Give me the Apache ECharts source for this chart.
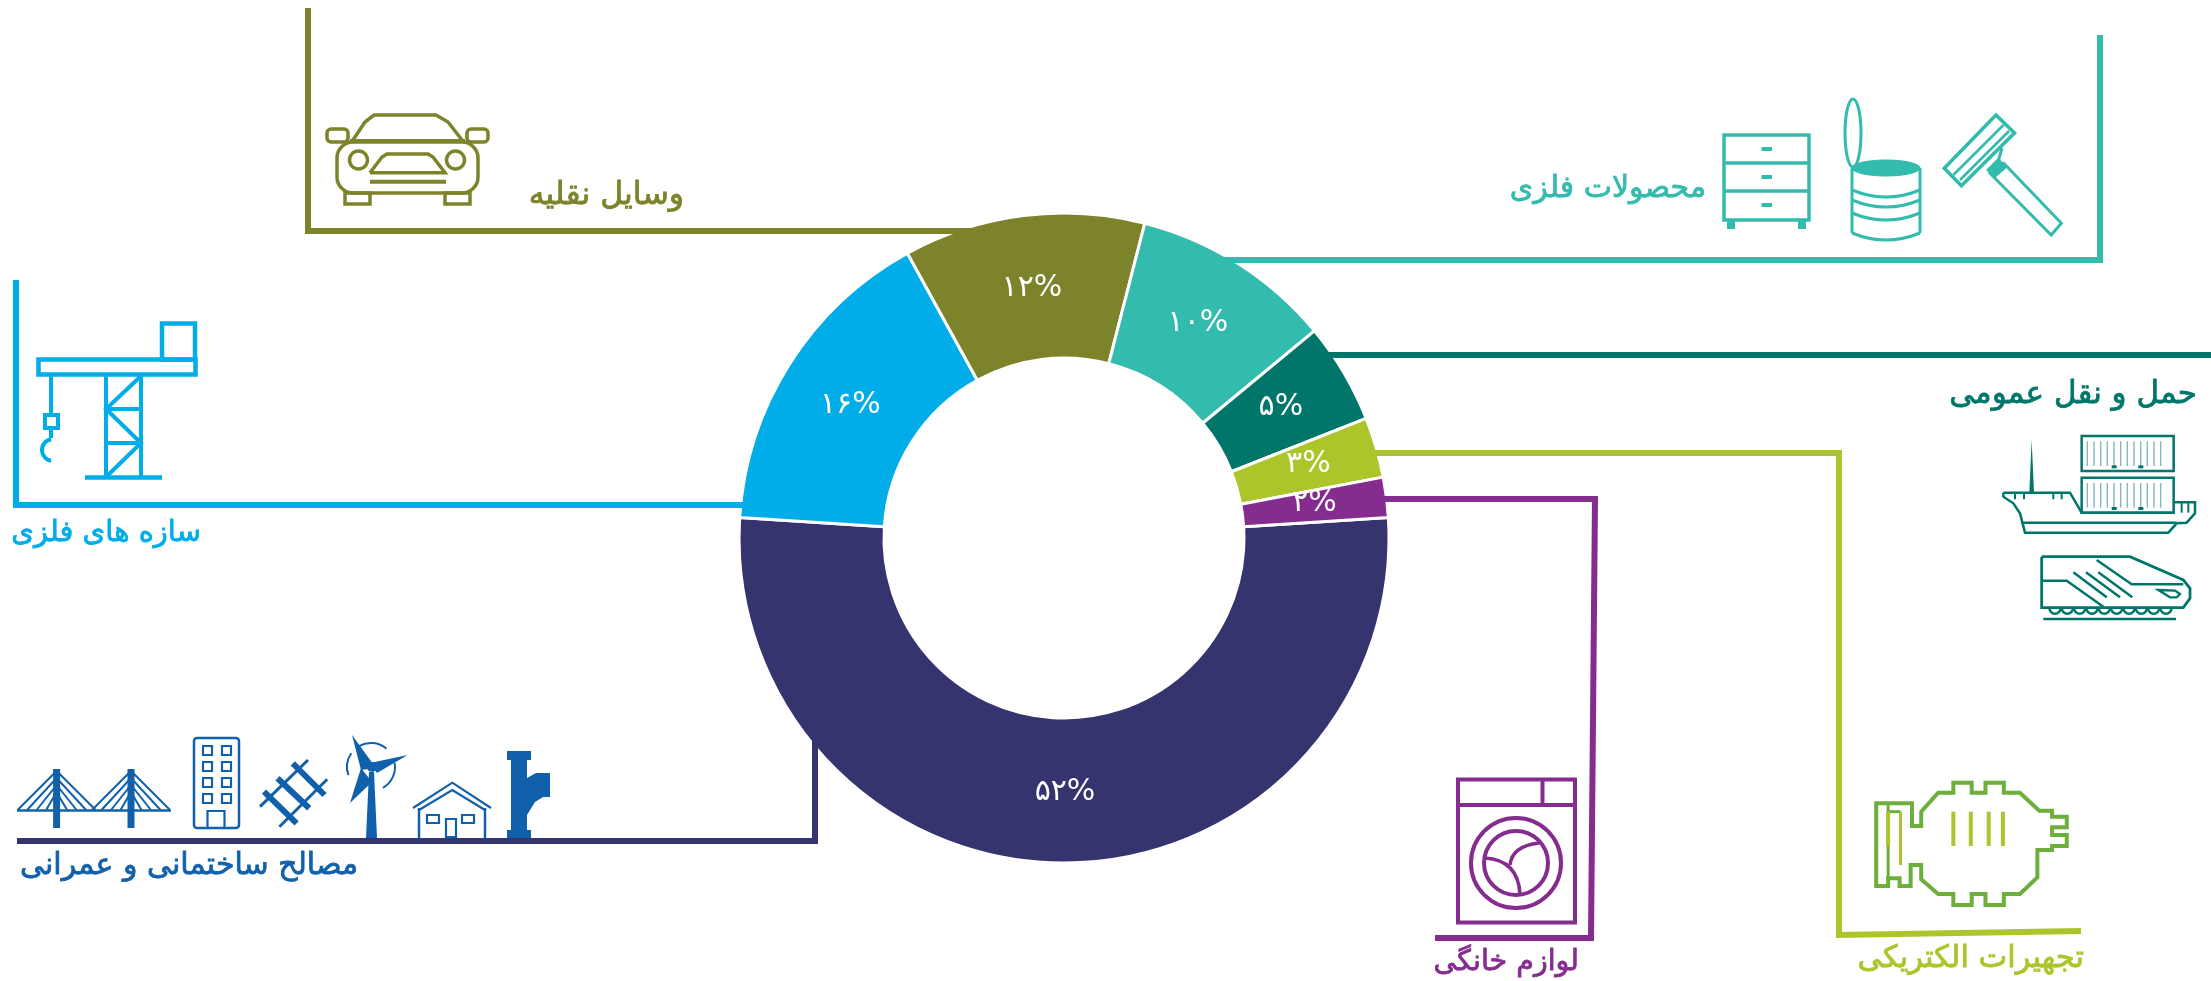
<!DOCTYPE html>
<html><head><meta charset="utf-8">
<style>html,body{margin:0;padding:0;background:#fff}#c{width:2211px;height:981px}</style>
<script src="https://cdn.jsdelivr.net/npm/echarts@6/dist/echarts.min.js"></script>
</head><body><div id="c"></div>
<script>
const categories = ['مصالح ساختمانی و عمرانی','سازه های فلزی','وسایل نقلیه','محصولات فلزی','حمل و نقل عمومی','تجهیرات الکتریکی','لوازم خانگی'];
const shareValues = [52,16,12,10,5,3,2];
const shareLabels = ['۵۲%','۱۶%','۱۲%','۱۰%','۵%','۳%','۲%'];
const sliceColors = ['#35346F','#00ADE9','#7C832A','#33BBAD','#00766A','#AEC42B','#852C8F'];

const FONT = '"DejaVu Sans"';
const NAVY='#35346F',BLUE='#00ADE9',OLIVE='#7C832A',TEAL='#33BBAD',DARK='#00766A',LIME='#AEC42B',PURPLE='#852C8F',ROYAL='#1160AC',GREEN='#6DAF3A';
const els = [];
const line=(pts,c,w,o={})=>els.push({type:'polyline',silent:true,z:5,shape:{points:pts,smooth:o.smooth||0},style:{stroke:c,fill:o.fill||'none',lineWidth:w,lineJoin:'miter',lineCap:o.cap||'butt',opacity:o.opacity==null?1:o.opacity}});
const poly=(pts,c)=>els.push({type:'polygon',silent:true,shape:{points:pts},style:{fill:c}});
const closed=(pts,c,w)=>els.push({type:'polygon',silent:true,shape:{points:pts},style:{fill:'none',stroke:c,lineWidth:w,lineJoin:'miter'}});
const rect=(x,y,w,h,c,lw,r)=>els.push({type:'rect',silent:true,shape:{x,y,width:w,height:h,r:r||0},style:{fill:'none',stroke:c,lineWidth:lw}});
const fillRect=(x,y,w,h,c)=>els.push({type:'rect',silent:true,shape:{x,y,width:w,height:h},style:{fill:c}});
const circle=(cx,cy,r,c,lw,fill)=>els.push({type:'circle',silent:true,shape:{cx,cy,r},style:{fill:fill||'none',stroke:c,lineWidth:lw}});
const ellipse=(cx,cy,rx,ry,c,lw,fill)=>els.push({type:'ellipse',silent:true,shape:{cx,cy,rx,ry},style:{fill:fill||'none',stroke:c,lineWidth:lw}});
const arc=(cx,cy,r,a0,a1,c,lw,cw)=>els.push({type:'arc',silent:true,shape:{cx,cy,r,startAngle:a0*Math.PI/180,endAngle:a1*Math.PI/180,clockwise:cw!==false},style:{fill:'none',stroke:c,lineWidth:lw}});
const curve=(a,b,cp,c,lw)=>els.push({type:'bezierCurve',silent:true,shape:{x1:a[0],y1:a[1],x2:b[0],y2:b[1],cpx1:cp[0],cpy1:cp[1]},style:{fill:'none',stroke:c,lineWidth:lw}});
const text=(s,right,cy,size,c)=>els.push({type:'text',silent:true,style:{text:s,x:right,y:cy,align:'right',verticalAlign:'middle',font:`${size}px ${FONT}`,fill:c,stroke:c,lineWidth:0.8}});

/* leader lines */
line([[16,280],[16,505],[746,505]],BLUE,6);
line([[308,8],[308,231],[975,231]],OLIVE,6);
line([[2100,35],[2100,260],[1222,260]],TEAL,6);
line([[1325,355],[2211,355]],DARK,6);
line([[1372,453],[1839,453],[1839,935],[2081,931]],LIME,6);
line([[1381,499],[1595,499],[1591,938],[1435,938]],PURPLE,6);
line([[815,735],[815,841],[17,841]],NAVY,6);

/* crane */
rect(38.5,359.5,157,15,BLUE,4.5);
rect(162,323.5,33,36,BLUE,4.5);
line([[106,376],[106,477]],BLUE,4);line([[141,376],[141,477]],BLUE,4);
line([[85,477.5],[162,477.5]],BLUE,4.5);
line([[106,409],[141,409]],BLUE,4);line([[106,443],[141,443]],BLUE,4);
line([[141,376],[106,409],[141,443],[106,477]],BLUE,4);
line([[51,376],[51,414]],BLUE,4);rect(45,415,13,13,BLUE,4);line([[51,429],[51,438]],BLUE,4);
arc(53,450,11,-100,100,BLUE,4,false);

/* building materials */
[56.6,131].forEach(t=>{
  fillRect(t-3.5,769,7,59,ROYAL);
  for(let i=0;i<4;i++){const d=39-i*9.5,y=771+i*7;
    line([[t-d,810],[t,y],[t+d,810]],ROYAL,2);}
});
line([[17,810.5],[171,810.5]],ROYAL,2.5);
rect(194,738,45,90,ROYAL,2.5,3);
[746,762,778,794].forEach(y=>{rect(203,y,9,9,ROYAL,2.2);rect(222,y,9,9,ROYAL,2.2);});
rect(207.5,811,17,17,ROYAL,2.2);
line([[260,806.7],[308,760]],ROYAL,3);line([[279.4,826.7],[327.2,779.3]],ROYAL,3);
line([[292.8,763.3],[324.5,795]],ROYAL,6);line([[277.5,778.3],[309.2,808.3]],ROYAL,6);line([[264,791.7],[296.6,823.3]],ROYAL,6);
poly([[366,838],[377,838],[374,772],[369,772]],ROYAL);
poly([[352,735],[376,768],[361,770]],ROYAL);poly([[407.6,755],[370,763],[377,773]],ROYAL);poly([[350,803],[361,768],[372,782]],ROYAL);
circle(372,767,5,ROYAL,0,ROYAL);
arc(371,767,24,-120,-50,ROYAL,2);arc(371,767,24,160,215,ROYAL,2);arc(371,767,24,-10,60,ROYAL,2);
line([[413,808],[452.3,782.7],[491,808]],ROYAL,2.2);line([[419,810],[452.3,790],[485,810]],ROYAL,2.2);
line([[419,808],[419,838]],ROYAL,2.5);line([[485,808],[485,838]],ROYAL,2.5);
rect(427,815,12,8,ROYAL,2.2);rect(462,815,12,8,ROYAL,2.2);rect(446,819,10,18,ROYAL,2.2);
poly([[507,751],[531,751],[531,760],[527,760],[527,778],[536,773],[543,773],[550,773],[550,797],[543,797],[535,802],[527,815],[527,830],[531,830],[531,838],[507,838],[507,830],[511,830],[511,760],[507,760]],ROYAL);

/* car */
line([[353,140],[365,122],[374,115],[436,115],[448,122],[462,140]],OLIVE,3.5);
line([[350,141],[465,141]],OLIVE,4);
rect(327,129,21,13,OLIVE,3.5,4);rect(467,129,21,13,OLIVE,3.5,4);
rect(337,142,141,51,OLIVE,3.5,16);
circle(358.5,160,9,OLIVE,3.5);circle(455.5,160,9,OLIVE,3.5);
line([[370,172.7],[382,157],[387,154],[428,154],[433,157],[445,172.7],[370,172.7]],OLIVE,3.5);
line([[370,181.7],[446,181.7]],OLIVE,4);
rect(345,193,25,11,OLIVE,3.5);rect(445,193,25,11,OLIVE,3.5);

/* drawers, can, razor */
rect(1724,135,85,85,TEAL,3.5);
line([[1724,163],[1809,163]],TEAL,3.5);line([[1724,191],[1809,191]],TEAL,3.5);
[149,177,205].forEach(y=>line([[1761.5,y],[1772,y]],TEAL,4));
fillRect(1727,220,8,9,TEAL);fillRect(1798,220,8,9,TEAL);
ellipse(1853,133,8,34,TEAL,3);
ellipse(1886,168,34,8,TEAL,1,TEAL);
line([[1852,168],[1852,233]],TEAL,3);line([[1920,168],[1920,233]],TEAL,3);
[190,200,213,233].forEach(y=>curve([1852,y],[1920,y],[1886,y+14],TEAL,3));
closed([[1996,115],[2014.5,133],[1961.4,185.7],[1944.3,168.3]],TEAL,3.6);
line([[2003.5,125],[1953.3,175]],TEAL,2.6);line([[2009,131],[1960,180]],TEAL,2.6);
line([[2002,148],[1998,162]],TEAL,3);
poly([[1998,158],[2008,166.7],[1995,178],[1986,170]],TEAL);
closed([[2004,163.5],[2061.4,223.3],[2051.2,235],[1990,173.3]],TEAL,3);

/* ship and train */
const sx=p=>1900+p/3, sy=p=>340+p/3;
const S=a=>a.map(p=>[sx(p[0]),sy(p[1])]);
for(let k=0;k<2;k++){
  const y0=k?413:288;
  rect(sx(545),sy(y0),92,35,DARK,2.5);
  for(let i=0;i<12;i++) line(S([[562+i*20,y0+16],[562+i*20,y0+90]]),DARK,1.4,{opacity:0.5});
  fillRect(sx(635),sy(y0+88),5,3,DARK);fillRect(sx(715),sy(y0+88),5,3,DARK);
}
poly(S([[395,300],[388,458],[402,458]]),DARK);
line(S([[310,458],[510,458],[545,518],[820,518]]),DARK,2.5);
line(S([[310,458],[310,470],[340,490],[360,520],[375,578],[805,578],[830,550],[860,548],[885,520],[885,487],[820,487]]),DARK,2.5);
line(S([[365,548],[830,548]]),DARK,2.5);
[345,372,460,485].forEach(x=>line(S([[x,458],[x,478]]),DARK,2));
[845,865].forEach(x=>line(S([[x,487],[x,518]]),DARK,2));
line(S([[425,650],[690,650],[850,720],[870,745],[870,775],[850,803],[425,803],[425,650]]),DARK,2.8);
line(S([[425,722],[500,722],[610,800]]),DARK,2.5);
line(S([[590,660],[695,733],[850,733]]),DARK,2.5);
[[520,620],[558,660],[595,697]].forEach(a=>line(S([[a[0],697],[a[1],772]]),DARK,2.5));
closed(S([[775,750],[825,752],[840,762],[830,772],[810,772]]),DARK,2.3);
for(let i=0;i<10;i++) arc(sx(465+i*37),sy(805),5.5,0,180,DARK,2.5);
line(S([[430,837],[828,837]]),DARK,2.5);

/* washing machine and motor */
const M=a=>a.map(p=>[1400+p[0]*0.4592,740+p[1]/3]);
rect(1458,779.5,117,143,PURPLE,4);
line([[1458,805],[1575,805]],PURPLE,4);line([[1542.5,780],[1542.5,805]],PURPLE,4);
circle(1516,863,45,PURPLE,4);circle(1516,863,32,PURPLE,4);
curve([1485,858],[1520,894],[1518,860],PURPLE,3.5);
curve([1539,843],[1510,865],[1512,846],PURPLE,3.5);
closed(M([[1037,190],[1115,190],[1115,258],[1135,258],[1135,215],[1172,158],[1205,158],[1205,128],[1245,128],[1245,158],[1275,158],[1275,128],[1315,128],[1315,158],[1350,158],[1392,212],[1420,212],[1420,230],[1452,230],[1452,262],[1420,262],[1420,285],[1452,285],[1452,318],[1420,318],[1420,330],[1388,330],[1388,412],[1350,462],[1315,462],[1315,495],[1275,495],[1275,462],[1245,462],[1245,495],[1205,495],[1205,462],[1172,462],[1135,418],[1135,375],[1112,375],[1112,438],[1088,438],[1088,415],[1063,415],[1063,438],[1037,438]]),GREEN,4);
line(M([[1063,415],[1063,192]]),GREEN,3);line(M([[1063,215],[1090,215]]),GREEN,3);
[1205,1243,1282,1313,1063].forEach(x=>line(M([[x,215],[x,318]]),LIME,4));
line(M([[1090,215],[1090,375]]),LIME,3);

/* titles */
text(categories[1],201,533,29,BLUE);
text(categories[2],684,196,31.5,OLIVE);
text(categories[3],1706,189,30,TEAL);
text(categories[4],2197,395,31,DARK);
text(categories[6],1579,963,28.5,PURPLE);
text(categories[5],2084,959,30.5,LIME);
text(categories[0],358,866,30,ROYAL);

/* small nudges of the percent labels away from the ring's mid radius */
const labelNudge = [[1,-1],[2,4],[0,4],[-3,1],[-3,-1],[-1,-3],[-3,-3]];

const chart = echarts.init(document.getElementById('c'));
chart.setOption({
  animation:false,
  backgroundColor:'#fff',
  graphic:{elements:els},
  series:[{
    type:'pie',silent:true,
    center:[1064,538],radius:[180,325],startAngle:3.6,clockwise:true,
    avoidLabelOverlap:false,labelLine:{show:false},
    itemStyle:{borderColor:'#fff',borderWidth:3},
    label:{show:true,position:'inside',color:'#fff',fontSize:30,fontFamily:FONT,textBorderWidth:0,
      formatter:p=>shareLabels[p.dataIndex]},
    labelLayout:p=>({dx:labelNudge[p.dataIndex][0],dy:labelNudge[p.dataIndex][1]}),
    data:categories.map((name,i)=>({name,value:shareValues[i],itemStyle:{color:sliceColors[i]}}))
  }]
});
</script></body></html>
